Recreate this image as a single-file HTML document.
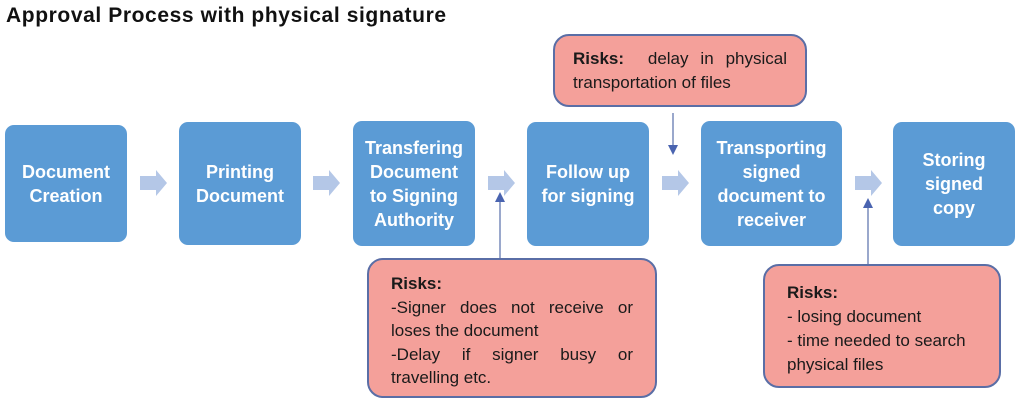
<!DOCTYPE html>
<html><head><meta charset="utf-8"><style>
body{margin:0;width:1024px;height:414px;background:#fff;position:relative;overflow:hidden;font-family:"Liberation Sans",sans-serif}
.t{position:absolute;left:6px;top:4px;font-weight:bold;font-size:21px;letter-spacing:0.6px;color:#111}
.b{position:absolute;background:#5b9bd5;border-radius:9px;color:#fff;font-weight:bold;font-size:18px;line-height:24px;display:flex;align-items:center;justify-content:center;text-align:center}
.r{position:absolute;background:#f4a09a;border:2px solid #5a6ea6;border-radius:16px;color:#1a1a1a;font-size:17px;line-height:24px;box-sizing:border-box;text-align:justify}
svg{position:absolute;left:0;top:0}
</style></head><body>
<div class="t">Approval Process with physical signature</div>
<div class="b" style="left:5px;top:125px;width:122px;height:117px">Document<br>Creation</div>
<div class="b" style="left:179px;top:122px;width:122px;height:123px">Printing<br>Document</div>
<div class="b" style="left:353px;top:121px;width:122px;height:125px">Transfering<br>Document<br>to Signing<br>Authority</div>
<div class="b" style="left:527px;top:122px;width:122px;height:124px">Follow up<br>for signing</div>
<div class="b" style="left:701px;top:121px;width:141px;height:125px">Transporting<br>signed<br>document to<br>receiver</div>
<div class="b" style="left:893px;top:122px;width:122px;height:124px">Storing<br>signed<br>copy</div>
<div class="r" style="left:553px;top:34px;width:254px;height:73px;padding:11px 18px"><b>Risks:</b>&nbsp; delay in physical transportation of files</div>
<div class="r" style="left:367px;top:258px;width:290px;height:140px;padding:12px 22px;line-height:23.5px"><b>Risks:</b><br>-Signer does not receive or loses the document<br>-Delay if signer busy or travelling etc.</div>
<div class="r" style="left:763px;top:264px;width:238px;height:124px;padding:15px 22px;text-align:left"><b>Risks:</b><br>- losing document<br>- time needed to search physical files</div>
<svg width="1024" height="414">
<g fill="#b4c7e7">
<polygon points="140,176 156,176 156,170 167,183 156,196 156,190 140,190"/>
<polygon points="313,176 329,176 329,170 340,183 329,196 329,190 313,190"/>
<polygon points="488,176 504,176 504,170 515,183 504,196 504,190 488,190"/>
<polygon points="662,176 678,176 678,170 689,183 678,196 678,190 662,190"/>
<polygon points="855,176 871,176 871,170 882,183 871,196 871,190 855,190"/>
</g>
<g stroke="#6478b0" stroke-width="1.3" fill="#4a64b0">
<line x1="673" y1="113" x2="673" y2="146"/><polygon points="668,145 678,145 673,155" stroke="none"/>
<line x1="500" y1="258" x2="500" y2="201"/><polygon points="495,202 505,202 500,192" stroke="none"/>
<line x1="868" y1="264" x2="868" y2="207"/><polygon points="863,208 873,208 868,198" stroke="none"/>
</g>
</svg>
</body></html>
